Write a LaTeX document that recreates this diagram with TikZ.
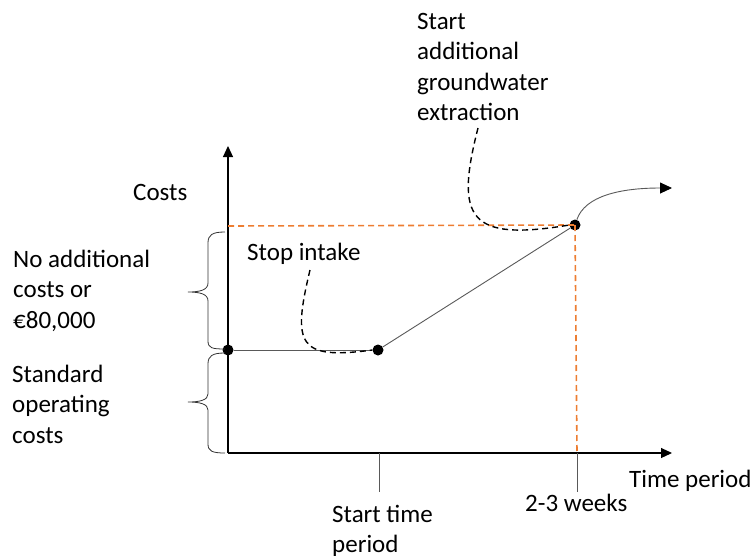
\documentclass[tikz,border=0pt]{standalone}
\usepackage{fontspec}
\setmainfont{Carlito}
\usetikzlibrary{arrows.meta}
\definecolor{offorange}{HTML}{ED7D31}
\definecolor{linegray}{HTML}{595959}
\begin{document}
\begin{tikzpicture}[x=1pt,y=-1pt,
  lbl/.style={anchor=base west,inner sep=0pt,font=\fontsize{25}{30.5}\selectfont},
  axis/.style={draw=black,line width=1.1pt,-{Triangle[length=11pt,width=10pt]}},
  conn/.style={draw=linegray,line width=0.9pt},
  callout/.style={draw=black,line width=1.4pt,dash pattern=on 6pt off 4pt},
  guide/.style={draw=offorange,line width=1.6pt,dash pattern=on 6pt off 4pt},
  bracestyle/.style={draw=black!80,line width=0.8pt},
  dot/.style={circle,fill=black,inner sep=0pt,minimum size=11pt}]
\useasboundingbox (0,0) rectangle (755,555);
% axes
\coordinate (O) at (228,453);
\coordinate (ytop) at (228,146);
\coordinate (xend) at (672,453);
\draw[axis] (O) -- (ytop);
\draw[axis] (O) -- (xend);
% ticks
\coordinate (t1a) at (379,453);
\coordinate (t1b) at (379,492);
\coordinate (t2a) at (577,453);
\coordinate (t2b) at (577,492);
\draw[conn] (t1a) -- (t1b);
\draw[conn] (t2a) -- (t2b);
% points
\node[dot] (p0) at (228,350) {};
\node[dot] (p1) at (378,350) {};
\node[dot] (p2) at (575,225) {};
\coordinate (g0) at (228,226);
\coordinate (g1) at (577,453);
\coordinate (aend) at (672,188);
% orange guides
\draw[guide] (g0) -- (p2.center);
\draw[guide] (p2.center) -- (g1);
% curve
\draw[conn] (p0) -- (p1);
\draw[conn] (p1) -- (p2);
\draw[conn,-{Triangle[length=12pt,width=11pt,color=black]}] (p2) .. controls (585,196) and (620,188) .. (aend);
% labels
\node[lbl] (costs) at (133,200) {Costs};
\node[lbl] (noadd) at (13,267) {\begin{tabular}[t]{@{}l@{}}No additional\\costs or\\€80,000\end{tabular}};
\node[lbl] (std) at (12,382) {\begin{tabular}[t]{@{}l@{}}Standard\\operating\\costs\end{tabular}};
\node[lbl] (stop) at (247,260) {Stop intake};
\node[lbl] (start) at (417,29) {\begin{tabular}[t]{@{}l@{}}Start\\additional\\groundwater\\extraction\end{tabular}};
\node[lbl] (stt) at (332,522) {\begin{tabular}[t]{@{}l@{}}Start time\\period\end{tabular}};
\node[lbl] (wk) at (525,511) {2-3 weeks};
\node[lbl] (tp) at (629,487) {Time period};
% callouts
\coordinate (c1) at (310,270);
\coordinate (c2) at (478,128);
\draw[callout] (c1) .. controls (292,345) and (298,360) .. (p1.west);
\draw[callout] (c2) .. controls (455,218) and (468,242) .. (p2.west);
% braces
\draw[bracestyle] (225,232) .. controls (212,232) and (208,235) .. (208,243) -- (208,283)
  .. controls (208,290) and (200,292) .. (188,292)
  .. controls (200,292) and (208,294) .. (208,301) -- (208,341)
  .. controls (208,348) and (212,349) .. (225,349);
\draw[bracestyle] (225,353) .. controls (212,353) and (208,356) .. (208,364) -- (208,394)
  .. controls (208,400) and (200,402) .. (188,402)
  .. controls (200,402) and (208,404) .. (208,410) -- (208,444)
  .. controls (208,451) and (212,453) .. (225,453);
\end{tikzpicture}
\end{document}
